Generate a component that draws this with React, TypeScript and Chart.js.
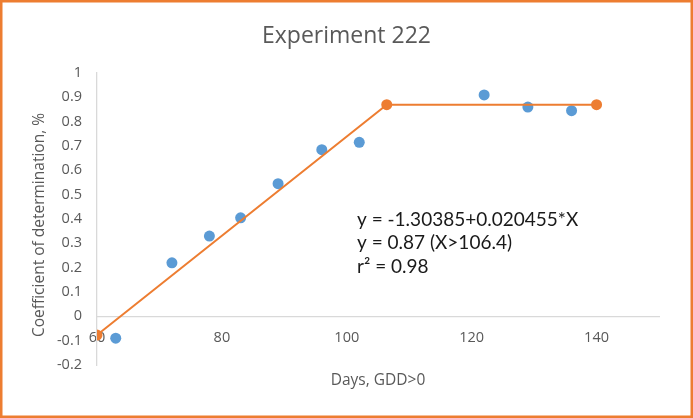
import React, { useEffect, useRef } from "react";
import { Chart, registerables } from "chart.js";

Chart.register(...registerables);

const chartTitle = "Experiment 222";
const xAxisTitle = "Days, GDD>0";
const yAxisTitle = "Coefficient of determination, %";

const days = [63, 72, 78, 83, 89, 96, 102, 122, 129, 136];
const coefficients = [-0.09, 0.22, 0.33, 0.405, 0.545, 0.685, 0.715, 0.91, 0.86, 0.845];

const fitDays = [60, 106.4, 140];
const fitValues = [-0.077, 0.87, 0.87];

const xTickValues = [60, 80, 100, 120, 140];
const yTickValues = [-0.2, -0.1, 0, 0.1, 0.2, 0.3, 0.4, 0.5, 0.6, 0.7, 0.8, 0.9, 1];

const annotationLines = ["y = -1.30385+0.020455*X", "y = 0.87 (X>106.4)", "r\u00B2 = 0.98"];

const BLUE = "#5B9BD5";
const ORANGE = "#ED7D31";
const TEXT = "#595959";
const AXIS = "#D9D9D9";

export default function App() {
  const canvasRef = useRef<HTMLCanvasElement | null>(null);

  useEffect(() => {
    document.body.style.margin = "0";
    const canvas = canvasRef.current;
    if (!canvas) return;

    const decor = {
      id: "decor",
      afterDraw(chart: any) {
        const ctx = chart.ctx as CanvasRenderingContext2D;
        const area = chart.chartArea;
        ctx.save();
        // title
        ctx.fillStyle = TEXT;
        ctx.textAlign = "center";
        ctx.textBaseline = "middle";
        ctx.font = "23px 'Open Sans'";
        ctx.fillText(chartTitle, chart.width / 2, 36);
        // x axis title
        ctx.font = "15.5px 'Open Sans'";
        ctx.fillText(xAxisTitle, (area.left + area.right) / 2, 381);
        // y axis title
        ctx.save();
        ctx.translate(40, (area.top + area.bottom) / 2 + 6);
        ctx.rotate(-Math.PI / 2);
        ctx.fillText(yAxisTitle, 0, 0);
        ctx.restore();
        // annotation
        ctx.fillStyle = "#1a1a1a";
        ctx.textAlign = "left";
        ctx.textBaseline = "alphabetic";
        ctx.font = "19px Lato";
        const baselines = [225.5, 249, 272.5];
        annotationLines.forEach((t, i) => ctx.fillText(t, 357, baselines[i]));
        // outer border
        ctx.strokeStyle = ORANGE;
        ctx.lineWidth = 2.5;
        ctx.strokeRect(1.25, 1.25, chart.width - 2.5, chart.height - 2.5);
        ctx.restore();
      },
    };

    const chart = new Chart(canvas, {
      type: "scatter",
      data: {
        datasets: [
          {
            label: "Fit",
            data: fitDays.map((x, i) => ({ x, y: fitValues[i] })),
            showLine: true,
            borderColor: ORANGE,
            backgroundColor: ORANGE,
            borderWidth: 2,
            pointRadius: 5.5,
            pointBorderWidth: 0,
            order: 1,
          },
          {
            label: "Observed",
            data: days.map((x, i) => ({ x, y: coefficients[i] })),
            borderColor: BLUE,
            backgroundColor: BLUE,
            pointRadius: 5.5,
            pointBorderWidth: 0,
            order: 2,
          },
        ],
      },
      options: {
        animation: false,
        responsive: false,
        devicePixelRatio: 1,
        layout: { padding: { top: 73, bottom: 53, left: 0, right: 34 } },
        plugins: {
          legend: { display: false },
          title: { display: false },
          tooltip: { enabled: false },
        },
        scales: {
          x: {
            type: "linear",
            min: 60,
            max: 150,
            position: { y: 0 } as any,
            afterBuildTicks: (scale: any) => {
              scale.ticks = xTickValues.map((v) => ({ value: v }));
            },
            grid: { display: false, drawTicks: false },
            border: { display: true, color: AXIS, width: 1.3 },
            ticks: {
              color: TEXT,
              font: { family: "'Open Sans'", size: 14.5 },
              padding: 13,
              maxRotation: 0,
              callback: (v: any) => String(v),
            },
          },
          y: {
            type: "linear",
            min: -0.2,
            max: 1,
            position: "left",
            afterBuildTicks: (scale: any) => {
              scale.ticks = yTickValues.map((v) => ({ value: v }));
            },
            afterFit: (scale: any) => {
              scale.width = 97;
            },
            grid: { display: false, drawTicks: false },
            border: { display: true, color: AXIS, width: 1.3 },
            ticks: {
              color: TEXT,
              font: { family: "'Open Sans'", size: 14.5 },
              padding: 15,
              callback: (v: any) => String(Number(Number(v).toFixed(1))),
            },
          },
        },
      },
      plugins: [decor],
    });

    return () => chart.destroy();
  }, []);

  return (
    <div style={{ width: 693, height: 418, background: "#fff" }}>
      <canvas ref={canvasRef} width={693} height={418} />
    </div>
  );
}
